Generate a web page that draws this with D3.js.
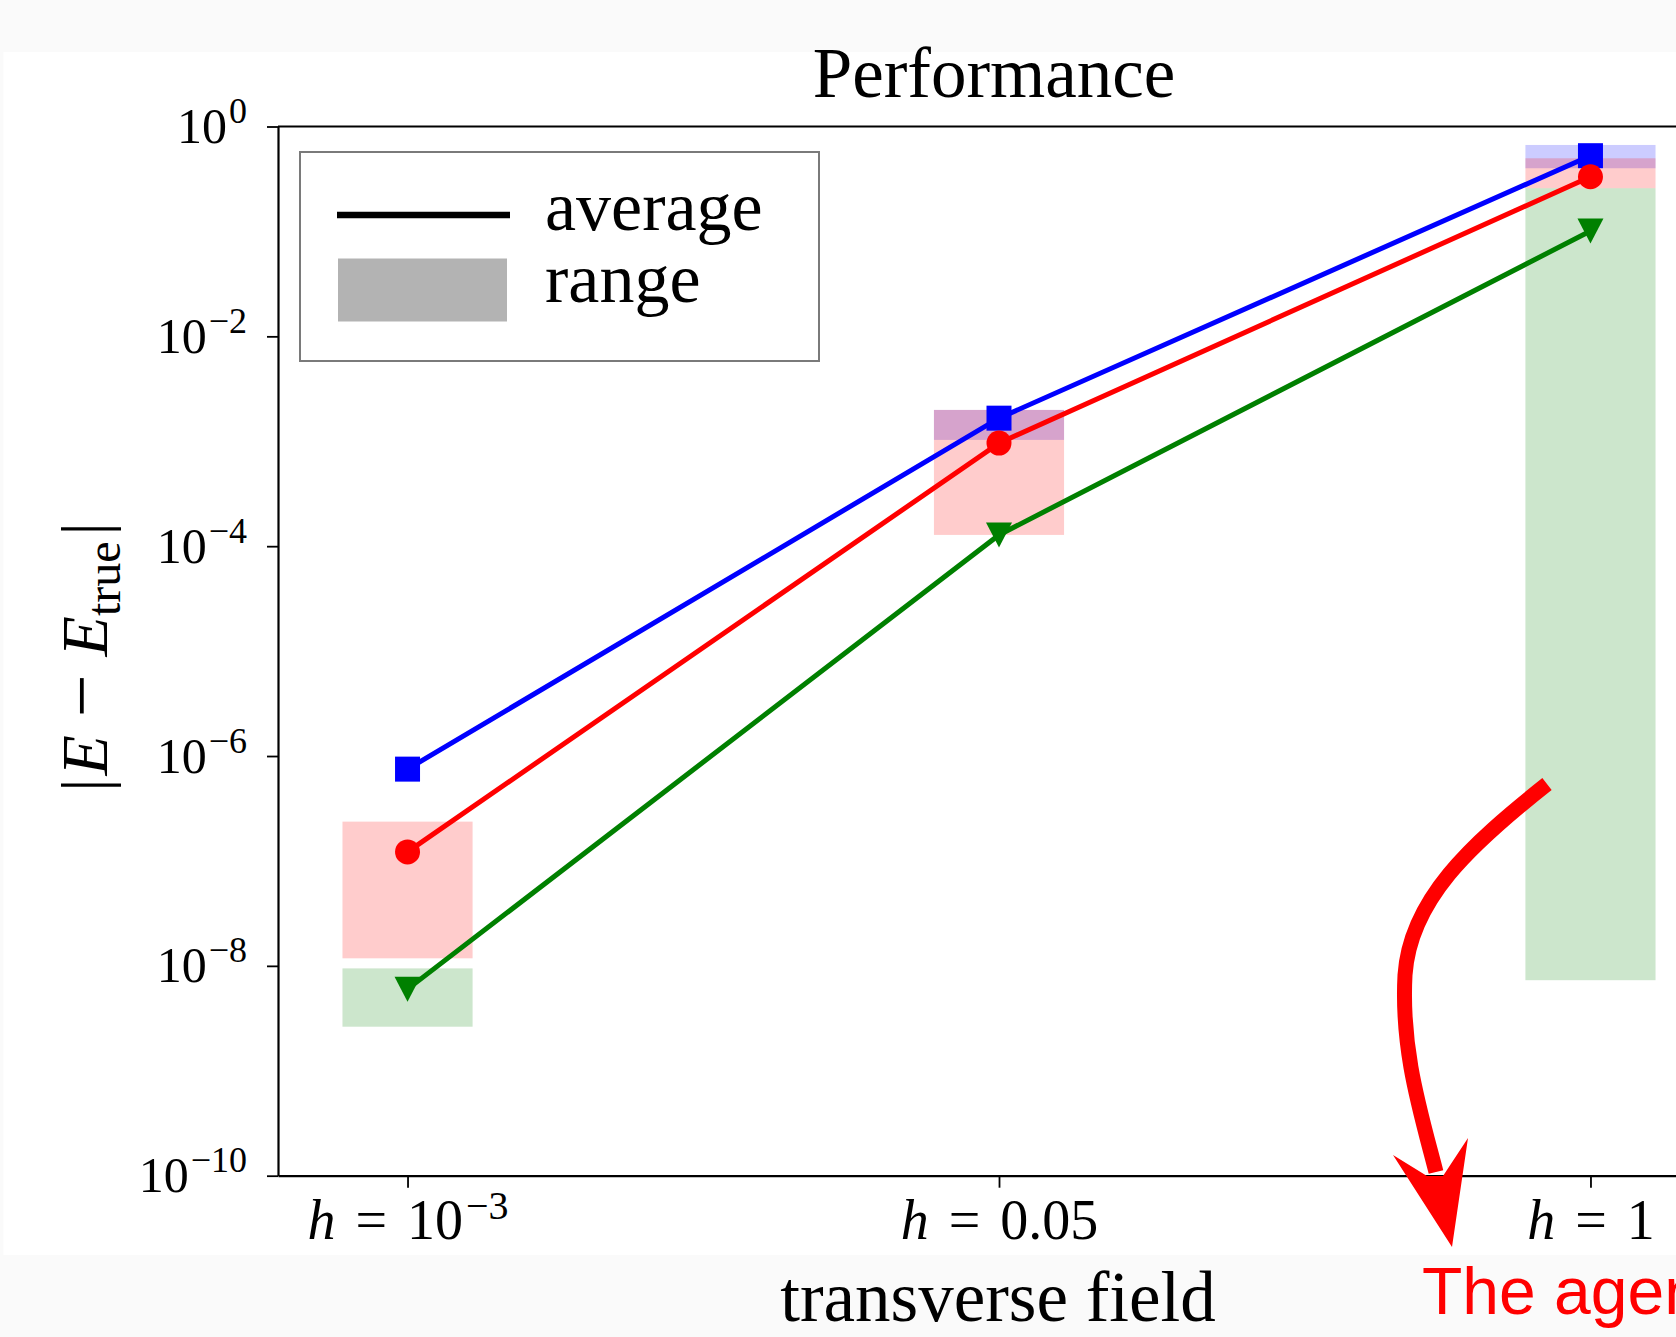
<!DOCTYPE html>
<html>
<head>
<meta charset="utf-8">
<script src="https://cdn.jsdelivr.net/npm/d3@7"></script>
<style>
  body { margin: 0; background: #fafafa; }
  svg { display: block; }
</style>
</head>
<body>
<div id="chart-area"></div>
<script>
// categories (transverse field h) -> tick label parts
var fieldBase = ["10", "0.05", "1"];
var fieldExp = ["\u22123", "", ""];

// y ticks (log scale), label exponents
var yTicks = [1, 1e-2, 1e-4, 1e-6, 1e-8, 1e-10];
var yTickExp = ["0", "\u22122", "\u22124", "\u22126", "\u22128", "\u221210"];

// |E - E_true| : average, range min, range max for each method
var blueAvg = [7.5e-7, 1.66e-3, 0.527];
var blueMin = [7.5e-7, 1.03e-3, 0.40];
var blueMax = [7.5e-7, 1.99e-3, 0.667];

var redAvg = [1.22e-7, 9.6e-4, 0.332];
var redMin = [1.18e-8, 1.28e-4, 0.258];
var redMax = [2.37e-7, 1.99e-3, 0.498];

var greenAvg = [6.0e-9, 1.28e-4, 0.101];
var greenMin = [2.63e-9, 1.28e-4, 7.3e-9];
var greenMax = [9.46e-9, 1.28e-4, 0.258];

var legendLabels = ["average", "range"];

var margin = { left: 278, top: 126.5 };
var width = 1442, height = 1049.2;
var serif = "'Liberation Serif', 'Times New Roman', serif";

var svg = d3.select("#chart-area")
    .append("svg")
        .attr("width", 1676)
        .attr("height", 1337);

// white figure panel on the grey page
svg.append("rect")
    .attr("x", 3.5).attr("y", 52)
    .attr("width", 1676).attr("height", 1203)
    .attr("fill", "#ffffff");

var g = svg.append("g")
    .attr("transform", "translate(" + margin.left + ", " + margin.top + ")");

var x = d3.scaleLinear()
    .domain([-0.219, 2.219])
    .range([0, width]);

var y = d3.scaleLog()
    .domain([1e-10, 1])
    .range([height, 0]);

var series = [
    { color: "#0000ff", avg: blueAvg, lo: blueMin, hi: blueMax, marker: "square" },
    { color: "#ff0000", avg: redAvg, lo: redMin, hi: redMax, marker: "circle" },
    { color: "#008000", avg: greenAvg, lo: greenMin, hi: greenMax, marker: "tri" }
];

var halfBar = 0.11;

// range boxes
series.forEach(function(s){
    g.append("g").selectAll("rect")
        .data(s.avg.map(function(d, i){ return i; }))
        .enter()
        .append("rect")
            .attr("x", function(i){ return x(i - halfBar); })
            .attr("width", function(i){ return x(i + halfBar) - x(i - halfBar); })
            .attr("y", function(i){ return y(s.hi[i]); })
            .attr("height", function(i){ return y(s.lo[i]) - y(s.hi[i]); })
            .attr("fill", s.color)
            .attr("fill-opacity", 0.2);
});

// axes
var xAxisGroup = g.append("g")
    .attr("transform", "translate(0," + height + ")")
    .call(d3.axisBottom(x).tickValues([0, 1, 2]).tickSize(12).tickSizeOuter(0).tickPadding(12))
    .attr("font-family", serif)
    .attr("font-size", 56);

xAxisGroup.selectAll(".tick text").text(null).each(function(d, i){
    var t = d3.select(this).attr("fill", "#000");
    t.append("tspan").attr("font-style", "italic").text("h");
    t.append("tspan").attr("dx", 20).text("=");
    t.append("tspan").attr("dx", 20).text(fieldBase[i]);
    if (fieldExp[i]) {
        t.append("tspan").attr("dy", -20).attr("dx", 3).attr("font-size", 40).text(fieldExp[i]);
    }
});

var yAxisGroup = g.append("g")
    .call(d3.axisLeft(y).tickValues(yTicks).tickSize(11).tickSizeOuter(0).tickPadding(20))
    .attr("font-family", serif)
    .attr("font-size", 50);

yAxisGroup.selectAll(".tick text").text(null).each(function(d, i){
    var t = d3.select(this).attr("fill", "#000");
    t.append("tspan").text("10");
    t.append("tspan").attr("dy", -20).attr("dx", 2).attr("font-size", 36).text(yTickExp[i]);
});

g.selectAll(".domain").attr("stroke-width", 2.2);
g.selectAll(".tick line").attr("stroke-width", 1.8);

// top and right spines
g.append("line").attr("x1", 0).attr("x2", width).attr("y1", 0).attr("y2", 0)
    .attr("stroke", "#000").attr("stroke-width", 2.2);
g.append("line").attr("x1", width).attr("x2", width).attr("y1", 0).attr("y2", height)
    .attr("stroke", "#000").attr("stroke-width", 2.2);

// average lines with markers
var line = d3.line()
    .x(function(d, i){ return x(i); })
    .y(function(d){ return y(d); });

series.forEach(function(s){
    g.append("path")
        .datum(s.avg)
        .attr("d", line)
        .attr("fill", "none")
        .attr("stroke", s.color)
        .attr("stroke-width", 5);

    var m = g.append("g").selectAll("path")
        .data(s.avg)
        .enter()
        .append("path")
            .attr("transform", function(d, i){ return "translate(" + x(i) + "," + y(d) + ")"; })
            .attr("fill", s.color);
    if (s.marker === "square") m.attr("d", "M-12.5,-12.5H12.5V12.5H-12.5Z");
    else if (s.marker === "circle") m.attr("d", d3.symbol(d3.symbolCircle, Math.PI * 12.5 * 12.5));
    else m.attr("d", "M-13,-12.5L13,-12.5L0,12.5Z");
});

// title and axis labels
svg.append("text")
    .attr("x", 994).attr("y", 97)
    .attr("text-anchor", "middle")
    .attr("font-family", serif).attr("font-size", 71)
    .text("Performance");

svg.append("text")
    .attr("x", 998).attr("y", 1321)
    .attr("text-anchor", "middle")
    .attr("font-family", serif).attr("font-size", 71)
    .text("transverse field");

var yLabel = svg.append("text")
    .attr("transform", "translate(107,657) rotate(-90)")
    .attr("text-anchor", "middle")
    .attr("font-family", serif).attr("font-size", 66);
yLabel.append("tspan").text("|");
yLabel.append("tspan").attr("dx", 3).attr("font-style", "italic").text("E");
yLabel.append("tspan").attr("dx", 18).attr("font-size", 76).text("\u2212");
yLabel.append("tspan").attr("dx", 18).attr("font-style", "italic").text("E");
yLabel.append("tspan").attr("dy", 13).attr("font-size", 48).text("true");
yLabel.append("tspan").attr("dy", -13).attr("dx", 6).text("|");

// legend
var legend = svg.append("g");
legend.append("rect")
    .attr("x", 300).attr("y", 152)
    .attr("width", 519).attr("height", 209)
    .attr("fill", "#fff")
    .attr("stroke", "#7a7a7a").attr("stroke-width", 2);
legend.append("line")
    .attr("x1", 337).attr("x2", 510).attr("y1", 215).attr("y2", 215)
    .attr("stroke", "#000").attr("stroke-width", 6.4);
legend.append("rect")
    .attr("x", 338).attr("y", 258.5)
    .attr("width", 169).attr("height", 63)
    .attr("fill", "#b3b3b3");
legend.selectAll("text.lab")
    .data(legendLabels)
    .enter()
    .append("text")
        .attr("x", 545)
        .attr("y", function(d, i){ return 230 + i * 71.5; })
        .attr("font-family", serif).attr("font-size", 70)
        .text(function(d){ return d; });

// red hand-drawn annotation overlay (screen coordinates)
var arrow = d3.path();
arrow.moveTo(1547, 784);
arrow.bezierCurveTo(1470, 845, 1410, 900, 1405, 975);
arrow.bezierCurveTo(1401, 1050, 1420, 1110, 1436, 1172);
var arrowHead = [[1393, 1155], [1427, 1176], [1443, 1176], [1468, 1138], [1452, 1247]];

svg.append("path")
    .attr("d", arrow.toString())
    .attr("fill", "none")
    .attr("stroke", "#ff0000")
    .attr("stroke-width", 15)
    .attr("stroke-linecap", "butt");
svg.append("path")
    .attr("d", "M" + arrowHead.join("L") + "Z")
    .attr("fill", "#ff0000");

svg.append("text")
    .attr("x", 1422).attr("y", 1314)
    .attr("font-family", "'Liberation Sans', Arial, sans-serif")
    .attr("font-size", 66)
    .attr("fill", "#ff0000")
    .text("The agent");
</script>
</body>
</html>
